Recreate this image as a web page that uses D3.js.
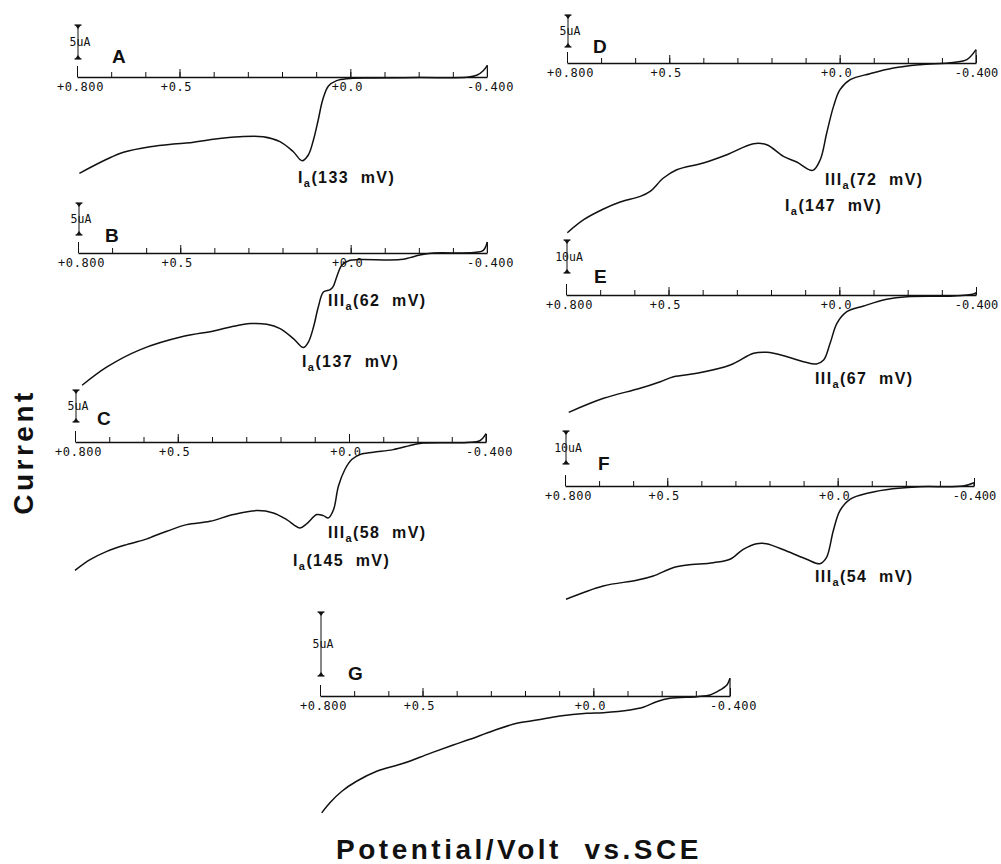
<!DOCTYPE html>
<html>
<head>
<meta charset="utf-8">
<script src="https://cdn.jsdelivr.net/npm/d3@7"></script>
<style>
  html, body { margin: 0; padding: 0; background: #fff; }
  svg { display: block; }
  .tick text { font-family: "DejaVu Sans Mono", monospace; font-size: 12px; letter-spacing: 0.6px; fill: #111; }
  .bold { font-family: "Liberation Sans", Arial, sans-serif; font-weight: bold; fill: #111; }
</style>
</head>
<body>
<svg id="chart" width="1001" height="864"></svg>
<script>
// ---------- data ----------
const potentialTicks = [0.8, 0.7, 0.6, 0.5, 0.4, 0.3, 0.2, 0.1, 0.0, -0.1, -0.2, -0.3, -0.4];
const majorTicks = [0.8, 0.5, 0.0, -0.4];
const tickLabels = ["+0.800", "+0.5", "+0.0", "-0.400"];
const panelNames = ["A", "B", "C", "D", "E", "F", "G"];
const scaleBarValues = [5, 5, 5, 5, 10, 10, 5];
const scaleBarLabels = ["5uA", "5uA", "5uA", "5uA", "10uA", "10uA", "5uA"];

// Potential (V) and current (uA) traces
const potA = [0.793,0.713,0.664,0.586,0.518,0.469,0.401,0.323,0.255,0.206,0.167,0.141,0.123,0.108,0.094,0.081,0.064,0.040,0.011,-0.067,-0.200,-0.341,-0.370,-0.389,-0.401];
const curA = [-14.16,-12.10,-11.07,-10.25,-9.85,-9.66,-9.16,-8.78,-8.78,-9.51,-10.99,-12.31,-11.47,-9.26,-6.32,-3.38,-1.32,-0.54,-0.25,-0.15,-0.08,-0.04,0.25,0.93,1.72];

const potB = [0.788,0.715,0.617,0.490,0.402,0.344,0.294,0.246,0.207,0.168,0.139,0.124,0.109,0.095,0.080,0.060,0.051,0.041,0.026,0.002,-0.027,-0.145,-0.174,-0.203,-0.243,-0.360,-0.389,-0.401];
const curB = [-20.67,-17.80,-15.09,-13.02,-12.19,-11.45,-11.03,-11.14,-11.81,-13.38,-14.78,-13.91,-11.56,-8.44,-6.09,-5.72,-5.20,-3.75,-1.92,-1.14,-1.03,-1.03,-0.72,-0.31,0.00,0.06,0.42,1.72];

const potC = [0.800,0.756,0.707,0.649,0.590,0.571,0.532,0.474,0.406,0.338,0.269,0.221,0.182,0.143,0.123,0.094,0.075,0.060,0.045,0.031,0.012,-0.008,-0.032,-0.071,-0.129,-0.188,-0.217,-0.344,-0.382,-0.400];
const curC = [-20.06,-18.39,-17.09,-16.03,-15.14,-14.73,-13.95,-12.91,-12.39,-11.34,-10.72,-11.08,-12.12,-13.42,-12.75,-11.34,-11.50,-11.86,-10.56,-6.92,-4.30,-2.74,-1.97,-1.61,-1.19,-0.42,-0.16,-0.06,0.20,1.30];

const potD = [0.799,0.751,0.693,0.644,0.585,0.556,0.517,0.478,0.400,0.331,0.253,0.214,0.165,0.126,0.079,0.057,0.038,0.018,-0.001,-0.031,-0.089,-0.158,-0.236,-0.333,-0.373,-0.400];
const curD = [-26.52,-24.48,-22.81,-21.72,-20.84,-20.06,-17.97,-16.67,-15.62,-14.33,-12.61,-12.77,-14.59,-15.47,-16.78,-15.11,-10.94,-6.78,-4.17,-2.61,-1.67,-0.78,-0.27,0.09,0.52,2.08];

const potE = [0.792,0.690,0.583,0.524,0.485,0.417,0.319,0.251,0.212,0.153,0.105,0.067,0.046,0.027,0.007,-0.022,-0.071,-0.139,-0.198,-0.334,-0.393,-0.400];
const curE = [-35.55,-31.30,-28.27,-26.27,-24.76,-23.73,-21.21,-17.67,-17.36,-18.70,-20.21,-20.91,-19.70,-14.64,-8.58,-5.06,-3.33,-1.30,-0.52,-0.30,0.30,0.70];

const potF = [0.797,0.688,0.590,0.541,0.473,0.365,0.316,0.277,0.238,0.209,0.150,0.091,0.052,0.033,0.013,-0.006,-0.036,-0.094,-0.162,-0.241,-0.368,-0.400];
const curF = [-34.33,-30.30,-28.58,-27.27,-24.45,-23.24,-22.21,-19.18,-17.48,-17.48,-19.70,-22.21,-23.55,-21.73,-13.64,-7.58,-4.03,-2.03,-0.82,-0.21,0.00,1.00];

const potG = [0.795,0.771,0.736,0.693,0.634,0.556,0.478,0.410,0.361,0.293,0.224,0.166,0.098,0.019,-0.029,-0.107,-0.146,-0.185,-0.224,-0.303,-0.342,-0.371,-0.391,-0.400];
const curG = [-9.13,-8.34,-7.44,-6.66,-5.88,-5.26,-4.48,-3.83,-3.38,-2.71,-2.13,-1.88,-1.56,-1.35,-1.30,-1.09,-0.88,-0.45,-0.18,-0.05,0.08,0.47,0.86,1.38];

// peak annotations
const annoPanels = ["A", "B", "B", "C", "C", "D", "D", "E", "F"];
const annoMain   = ["I", "III", "I", "III", "I", "III", "I", "III", "III"];
const annoRest   = ["(133  mV)", "(62  mV)", "(137  mV)", "(58  mV)", "(145  mV)", "(72  mV)", "(147  mV)", "(67  mV)", "(54  mV)"];

// ---------- layout (positions only) ----------
const layout = {
  A: { x0: 77,  x1: 487, axisY: 77,  barTop: 25,  barBot: 59,  letterX: 112, letterY: 63 },
  B: { x0: 78,  x1: 487, axisY: 253, barTop: 203, barBot: 235, letterX: 105, letterY: 242 },
  C: { x0: 75,  x1: 486, axisY: 442, barTop: 390, barBot: 422, letterX: 97,  letterY: 425 },
  D: { x0: 567, x1: 976, axisY: 63,  barTop: 15,  barBot: 47,  letterX: 593, letterY: 53 },
  E: { x0: 566, x1: 976, axisY: 295, barTop: 240, barBot: 273, letterX: 594, letterY: 283 },
  F: { x0: 565, x1: 974, axisY: 486, barTop: 431, barBot: 464, letterX: 598, letterY: 470 },
  G: { x0: 320, x1: 730, axisY: 696, barTop: 612, barBot: 676, letterX: 348, letterY: 680 }
};
const annoPos = [
  { x: 298, y: 183 }, { x: 328, y: 306 }, { x: 302, y: 367 }, { x: 328, y: 538 }, { x: 293, y: 566 },
  { x: 825, y: 185 }, { x: 785, y: 211 }, { x: 815, y: 384 }, { x: 815, y: 582 }
];

const series = { A: [potA, curA], B: [potB, curB], C: [potC, curC], D: [potD, curD], E: [potE, curE], F: [potF, curF], G: [potG, curG] };

const svg = d3.select("#chart");
const ink = "#111";

panelNames.forEach((name, i) => {
  const L = layout[name];
  const g = svg.append("g");
  const x = d3.scaleLinear().domain([0.8, -0.4]).range([L.x0, L.x1]);
  const pxPerUA = (L.barBot - L.barTop) / scaleBarValues[i];
  const y = d3.scaleLinear().domain([0, 1]).range([L.axisY, L.axisY - pxPerUA]);
  const nearEdge = L.x1 > 900;

  // minor ticks axis
  const minorAxis = d3.axisBottom(x).tickValues(potentialTicks).tickSize(-5).tickSizeOuter(0).tickFormat("");
  const ga = g.append("g").attr("transform", `translate(0,${L.axisY})`).call(minorAxis);
  ga.select(".domain").attr("stroke", ink).attr("stroke-width", 1.7);
  ga.selectAll(".tick line").attr("stroke", ink).attr("stroke-width", 1);

  // major ticks + labels
  const majorAxis = d3.axisBottom(x).tickValues(majorTicks).tickSize(-8).tickSizeOuter(0)
    .tickPadding(5).tickFormat((d, k) => tickLabels[k]);
  const gm = g.append("g").attr("transform", `translate(0,${L.axisY})`).call(majorAxis);
  gm.select(".domain").remove();
  gm.selectAll(".tick line").attr("stroke", ink).attr("stroke-width", 1)
    .attr("y2", (d, k) => (k === 0 ? -11 : -8));
  gm.selectAll(".tick text")
    .attr("dx", (d, k) => (k === 3 && nearEdge ? 0 : (tickLabels[k].length > 4 ? 3 : -3.5)))
    .style("letter-spacing", (d, k) => (k === 3 && nearEdge ? "0px" : null));

  // trace
  const [pot, cur] = series[name];
  const pts = pot.map((p, k) => [p, cur[k]]);
  const line = d3.line().x(d => x(d[0])).y(d => y(d[1])).curve(d3.curveCatmullRom.alpha(0.5));
  g.append("path").attr("d", line(pts)).attr("fill", "none").attr("stroke", ink).attr("stroke-width", 1.5);
  // return line at end of sweep
  const last = pts[pts.length - 1];
  g.append("line").attr("x1", x(last[0])).attr("x2", x(last[0]))
    .attr("y1", y(0)).attr("y2", y(last[1])).attr("stroke", ink).attr("stroke-width", 1.2);

  // scale bar
  const bx = L.x0 + 1;
  const yb = d3.scaleLinear().domain([0, scaleBarValues[i]]).range([L.barBot, L.barTop]);
  const top = yb(scaleBarValues[i]), bot = yb(0);
  g.append("line").attr("x1", bx).attr("x2", bx).attr("y1", top).attr("y2", bot).attr("stroke", ink).attr("stroke-width", 1);
  g.append("line").attr("x1", bx - 3.5).attr("x2", bx + 3.5).attr("y1", top).attr("y2", top).attr("stroke", ink).attr("stroke-width", 1.2);
  g.append("line").attr("x1", bx - 3.5).attr("x2", bx + 3.5).attr("y1", bot).attr("y2", bot).attr("stroke", ink).attr("stroke-width", 1.2);
  g.append("path").attr("d", `M${bx - 3},${top} L${bx + 3},${top} L${bx},${top + 4} Z`).attr("fill", ink);
  g.append("path").attr("d", `M${bx - 3},${bot} L${bx + 3},${bot} L${bx},${bot - 4} Z`).attr("fill", ink);
  g.append("text").attr("x", bx + 2).attr("y", (top + bot) / 2 + 4)
    .attr("text-anchor", "middle")
    .style("font-family", "'DejaVu Sans Mono', monospace").style("font-size", "11.5px").attr("fill", ink)
    .text(scaleBarLabels[i]);

  // panel letter
  g.append("text").attr("class", "bold").attr("x", L.letterX).attr("y", L.letterY)
    .style("font-size", "19px").text(name);
});

// annotations
annoPanels.forEach((p, k) => {
  const t = svg.append("text").attr("class", "bold").attr("x", annoPos[k].x).attr("y", annoPos[k].y)
    .attr("xml:space", "preserve").style("font-size", "16px").style("letter-spacing", "1.4px");
  t.append("tspan").text(annoMain[k]);
  t.append("tspan").attr("dy", 4).style("font-size", "11px").text("a");
  t.append("tspan").attr("dy", -4).text(annoRest[k]);
});

// axis titles
svg.append("text").attr("class", "bold")
  .attr("transform", "translate(33,452) rotate(-90)")
  .attr("text-anchor", "middle").style("font-size", "28px").style("letter-spacing", "3.5px")
  .text("Current");
svg.append("text").attr("class", "bold")
  .attr("x", 519).attr("y", 859).attr("text-anchor", "middle")
  .attr("xml:space", "preserve")
  .style("font-size", "28px").style("letter-spacing", "3.5px")
  .text("Potential/Volt  vs.SCE");
</script>
</body>
</html>
